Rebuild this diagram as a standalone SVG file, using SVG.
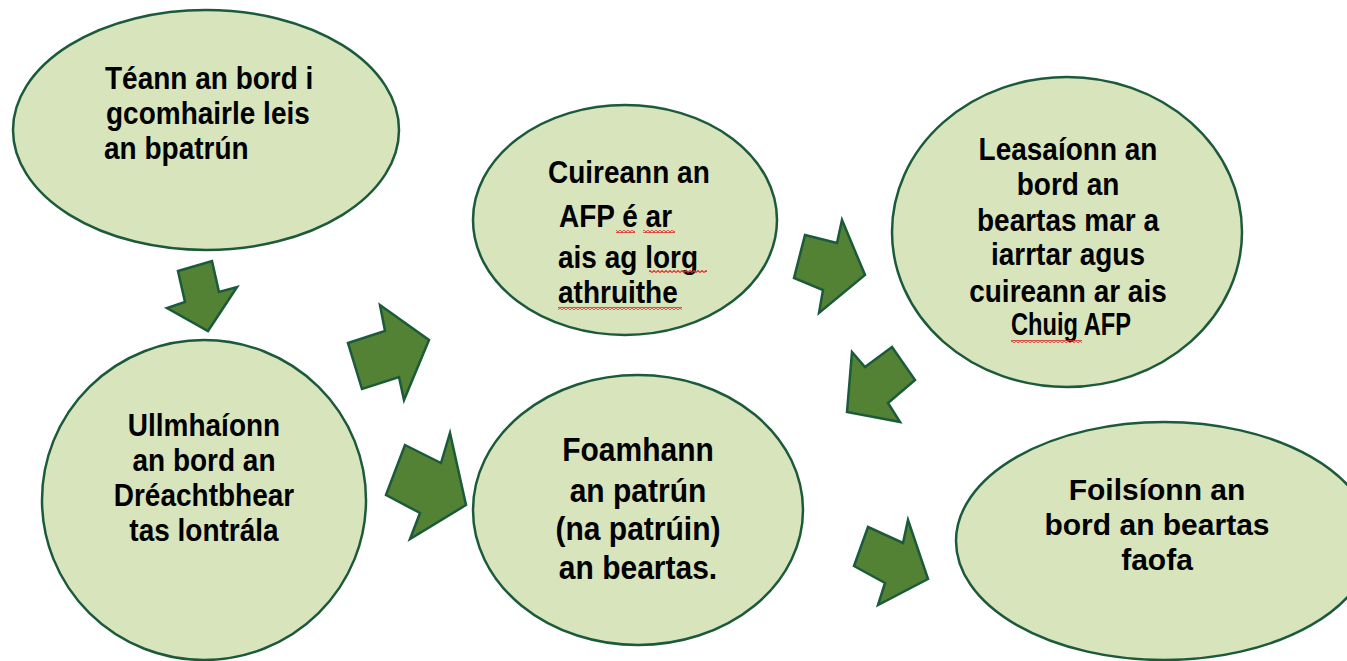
<svg xmlns="http://www.w3.org/2000/svg" width="1347" height="661" viewBox="0 0 1347 661">
  <defs>
    <pattern id="squig" width="4" height="3" patternUnits="userSpaceOnUse">
      <path d="M0 2.5 L2 0.5 L4 2.5" fill="none" stroke="#e0282a" stroke-width="1.1"/>
    </pattern>
  </defs>
  <style>
    .node { fill: #d8e4bc; stroke: #1b5a3a; stroke-width: 2.5; }
    .arrow { fill: #548235; stroke: #1b5a3a; stroke-width: 2.5; stroke-linejoin: miter; }
    .t { font-family: "Liberation Sans", Arial, sans-serif; font-weight: bold; font-size: 28px; fill: #000;
         transform-box: fill-box; transform-origin: center 81%; transform: scaleY(1.12); }
    .c { text-anchor: middle; }
    .big { font-size: 30px; }
    .flat { transform: none; }
    .sq { fill: url(#squig); }
  </style>
  <rect width="1347" height="661" fill="#ffffff"/>

  <g id="connectors">
    <polygon class="arrow" points="178,271 212,261 219,292 237,287 208,331 167,308 185,302"/>
    <polygon class="arrow" points="348,343 385,331 380,305 429,340 404,400 399,377 362,389"/>
    <polygon class="arrow" points="405,445 441,463 450,433 466,505 410,539 420,513 386,495"/>
    <polygon class="arrow" points="805,235 837,243 842,220 865,275 819,313 823,290 794,278"/>
    <polygon class="arrow" points="892,347 915,380 888,403 900,422 847,412 852,352 865,367"/>
    <polygon class="arrow" points="868,527 903,543 908,520 928,579 878,605 885,583 854,566"/>
  </g>

  <g id="node-teann">
    <ellipse class="node" cx="206" cy="130" rx="193" ry="120"/>
    <text class="t" x="105" y="89">Téann an bord i</text>
    <text class="t" x="106" y="124">gcomhairle leis</text>
    <text class="t" x="104" y="159">an bpatrún</text>
  </g>

  <g id="node-ullmhaionn">
    <ellipse class="node" cx="204" cy="500" rx="162" ry="160"/>
    <text class="t c" x="204" y="436">Ullmhaíonn</text>
    <text class="t c" x="204" y="471">an bord an</text>
    <text class="t c" x="204" y="506">Dréachtbhear</text>
    <text class="t c" x="204" y="541">tas lontrála</text>
  </g>

  <g id="node-cuireann">
    <ellipse class="node" cx="625" cy="220" rx="152" ry="115"/>
    <text class="t" x="548" y="183">Cuireann an</text>
    <text class="t" x="559" y="227">AFP é ar</text>
    <text class="t" x="558" y="268">ais ag lorg</text>
    <text class="t" x="558" y="303">athruithe</text>
    <rect class="sq" x="616" y="230" width="19" height="3"/>
    <rect class="sq" x="643" y="230" width="32" height="3"/>
    <rect class="sq" x="649" y="270" width="58" height="3"/>
    <rect class="sq" x="558" y="307" width="124" height="3"/>
  </g>

  <g id="node-leasaionn">
    <ellipse class="node" cx="1067" cy="232" rx="175" ry="155"/>
    <text class="t c" x="1068" y="160">Leasaíonn an</text>
    <text class="t c" x="1068" y="195">bord an</text>
    <text class="t c" x="1068" y="231">beartas mar a</text>
    <text class="t c" x="1068" y="265">iarrtar agus</text>
    <text class="t c" x="1068" y="302">cuireann ar ais</text>
    <text class="t" x="1011" y="335" textLength="120" lengthAdjust="spacingAndGlyphs">Chuig AFP</text>
    <rect class="sq" x="1011" y="340" width="71" height="3"/>
  </g>

  <g id="node-foamhann">
    <ellipse class="node" cx="638" cy="510" rx="165" ry="135"/>
    <text class="t c big" x="638" y="461">Foamhann</text>
    <text class="t c big" x="638" y="502">an patrún</text>
    <text class="t c big" x="638" y="540">(na patrúin)</text>
    <text class="t c big" x="638" y="579">an beartas.</text>
  </g>

  <g id="node-foilsionn">
    <ellipse class="node" cx="1164" cy="541" rx="208" ry="119"/>
    <text class="t c big flat" x="1157" y="500">Foilsíonn an</text>
    <text class="t c big flat" x="1157" y="535">bord an beartas</text>
    <text class="t c big flat" x="1157" y="570">faofa</text>
  </g>
</svg>
